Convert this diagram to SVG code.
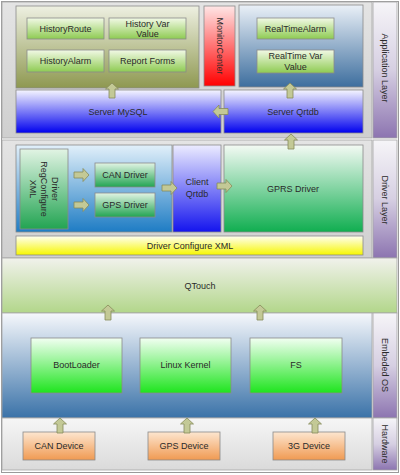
<svg xmlns="http://www.w3.org/2000/svg" width="400" height="475" viewBox="0 0 400 475">
<defs>
<linearGradient id="gPanel" x1="0" y1="0" x2="0" y2="1"><stop offset="0" stop-color="#e4e4e4"/><stop offset="1" stop-color="#cfcfcf"/></linearGradient>
<linearGradient id="gLabel" x1="0" y1="0" x2="0" y2="1"><stop offset="0" stop-color="#f6f5f8"/><stop offset="0.5" stop-color="#d6cfe2"/><stop offset="1" stop-color="#8c74b0"/></linearGradient>
<linearGradient id="gOlive" x1="0" y1="0" x2="0" y2="1"><stop offset="0" stop-color="#eef0e2"/><stop offset="1" stop-color="#8e9850"/></linearGradient>
<linearGradient id="gBtn" x1="0" y1="0" x2="0" y2="1"><stop offset="0" stop-color="#f2f9e6"/><stop offset="1" stop-color="#8ecb52"/></linearGradient>
<linearGradient id="gBlue" x1="0" y1="0" x2="0" y2="1"><stop offset="0" stop-color="#f6f6ff"/><stop offset="1" stop-color="#0000ee"/></linearGradient>
<linearGradient id="gRed" x1="0" y1="0" x2="0" y2="1"><stop offset="0" stop-color="#ffe6e6"/><stop offset="1" stop-color="#ff0000"/></linearGradient>
<linearGradient id="gSteel" x1="0" y1="0" x2="0" y2="1"><stop offset="0" stop-color="#eaf0f7"/><stop offset="1" stop-color="#3d6e9e"/></linearGradient>
<linearGradient id="gDrvBox" x1="0" y1="0" x2="0" y2="1"><stop offset="0" stop-color="#e2f0fa"/><stop offset="1" stop-color="#1e7cc4"/></linearGradient>
<linearGradient id="gDrvGreen" x1="0" y1="0" x2="0" y2="1"><stop offset="0" stop-color="#e2f4e4"/><stop offset="1" stop-color="#22a452"/></linearGradient>
<linearGradient id="gClient" x1="0" y1="0" x2="0" y2="1"><stop offset="0" stop-color="#ececff"/><stop offset="1" stop-color="#1414ee"/></linearGradient>
<linearGradient id="gGPRS" x1="0" y1="0" x2="0" y2="1"><stop offset="0" stop-color="#f4faf4"/><stop offset="1" stop-color="#10ae50"/></linearGradient>
<linearGradient id="gYellow" x1="0" y1="0" x2="0" y2="1"><stop offset="0" stop-color="#fffff2"/><stop offset="1" stop-color="#f6f600"/></linearGradient>
<linearGradient id="gQTouch" x1="0" y1="0" x2="0" y2="1"><stop offset="0" stop-color="#f1f2ec"/><stop offset="1" stop-color="#b2d68a"/></linearGradient>
<linearGradient id="gOS" x1="0" y1="0" x2="0" y2="1"><stop offset="0" stop-color="#f6f8fc"/><stop offset="1" stop-color="#3a72a8"/></linearGradient>
<linearGradient id="gOSGreen" x1="0" y1="0" x2="0" y2="1"><stop offset="0" stop-color="#f2fff2"/><stop offset="1" stop-color="#1ee41e"/></linearGradient>
<linearGradient id="gHW" x1="0" y1="0" x2="0" y2="1"><stop offset="0" stop-color="#f6f6f6"/><stop offset="1" stop-color="#dadada"/></linearGradient>
<linearGradient id="gOrange" x1="0" y1="0" x2="0" y2="1"><stop offset="0" stop-color="#fde6d0"/><stop offset="1" stop-color="#f09a52"/></linearGradient>
<path id="arrUp" d="M0,0 L6.5,6 L3,6 L3,15 L-3,15 L-3,6 L-6.5,6 Z"/>
</defs>
<style>
text{font-family:"Liberation Sans",Arial,sans-serif;font-size:9px;fill:#2a2a2a;text-anchor:middle;dominant-baseline:central}
.box{stroke:#8a8a8a;stroke-width:0.8}
.panel{stroke:#a6a6a6;stroke-width:0.8}
.arrow{fill:#c3c996;stroke:#868c5a;stroke-width:0.8}
</style>
<rect x="1.5" y="1.5" width="397" height="471" fill="#ffffff" stroke="#9a9a9a"/>

<g id="application-layer">
<rect class="panel" x="2" y="2" width="370" height="136" fill="url(#gPanel)"/>
<rect class="panel" x="373" y="2" width="24" height="136" fill="url(#gLabel)"/>
<text transform="translate(385,68) rotate(90)">Application Layer</text>
</g>
<g id="history-group"><rect class="box" x="16" y="6" width="183" height="82" fill="url(#gOlive)"/></g>
<g id="history-route"><rect class="box" x="27" y="18" width="77" height="21" fill="url(#gBtn)"/><text x="65.5" y="28.5">HistoryRoute</text></g>
<g id="history-var-value"><rect class="box" x="109" y="18" width="77" height="21" fill="url(#gBtn)"/><text x="147.5" y="23.5">History Var</text><text x="147.5" y="33.5">Value</text></g>
<g id="history-alarm"><rect class="box" x="27" y="50" width="77" height="22" fill="url(#gBtn)"/><text x="65.5" y="61">HistoryAlarm</text></g>
<g id="report-forms"><rect class="box" x="109" y="50" width="77" height="22" fill="url(#gBtn)"/><text x="147.5" y="61">Report Forms</text></g>
<g id="monitor-center"><rect class="box" x="204" y="6" width="31" height="80" fill="url(#gRed)"/><text transform="translate(219.5,46) rotate(90)">MonitorCenter</text></g>
<g id="realtime-group"><rect class="box" x="239" y="5" width="124" height="82" fill="url(#gSteel)"/></g>
<g id="realtime-alarm"><rect class="box" x="257" y="18" width="77" height="21" fill="url(#gBtn)"/><text x="295.5" y="28.5">RealTimeAlarm</text></g>
<g id="realtime-var-value"><rect class="box" x="257" y="50" width="77" height="23" fill="url(#gBtn)"/><text x="295.5" y="56">RealTime Var</text><text x="295.5" y="67">Value</text></g>
<g id="server-mysql"><rect class="box" x="16" y="90" width="205" height="43" fill="url(#gBlue)"/><text x="118" y="111.5">Server MySQL</text></g>
<g id="server-qrtdb"><rect class="box" x="224" y="90" width="139" height="43" fill="url(#gBlue)"/><text x="293" y="111.5">Server Qrtdb</text></g>

<g id="driver-layer">
<rect class="panel" x="2" y="140" width="370" height="118" fill="url(#gPanel)"/>
<rect class="panel" x="373" y="140" width="24" height="118" fill="url(#gLabel)"/>
<text transform="translate(385,200) rotate(90)">Driver Layer</text>
</g>
<g id="driver-group"><rect class="box" x="16" y="145" width="156" height="87" fill="url(#gDrvBox)"/></g>
<g id="driver-regconfigure-xml"><rect class="box" x="20" y="149" width="48" height="80" fill="url(#gDrvGreen)"/>
<text transform="translate(44,189) rotate(90)"><tspan x="0" y="-11">Driver</tspan><tspan x="0" y="0">RegConfigure</tspan><tspan x="0" y="11">XML</tspan></text></g>
<g id="can-driver"><rect class="box" x="95" y="163" width="60" height="24" fill="url(#gDrvGreen)"/><text x="125" y="175">CAN Driver</text></g>
<g id="gps-driver"><rect class="box" x="95" y="193" width="60" height="24" fill="url(#gDrvGreen)"/><text x="125" y="205">GPS Driver</text></g>
<g id="client-qrtdb"><rect class="box" x="173" y="145" width="48" height="87" fill="url(#gClient)"/><text x="197" y="182">Client</text><text x="197" y="194">Qrtdb</text></g>
<g id="gprs-driver"><rect class="box" x="224" y="145" width="139" height="87" fill="url(#gGPRS)"/><text x="293" y="189">GPRS Driver</text></g>
<g id="driver-configure-xml"><rect class="box" x="16" y="236" width="347" height="19" fill="url(#gYellow)"/><text x="190" y="246">Driver Configure XML</text></g>

<g id="qtouch"><rect class="panel" x="2" y="258" width="395" height="55" fill="url(#gQTouch)"/><text x="200" y="285.5">QTouch</text></g>

<g id="embedded-os">
<rect class="panel" x="2" y="313" width="370" height="105" fill="url(#gOS)"/>
<rect class="panel" x="373" y="313" width="24" height="105" fill="url(#gLabel)"/>
<text transform="translate(385,365) rotate(90)">Embeded OS</text>
</g>
<g id="bootloader"><rect class="box" x="31" y="338" width="91" height="55" fill="url(#gOSGreen)"/><text x="76.5" y="365">BootLoader</text></g>
<g id="linux-kernel"><rect class="box" x="140" y="338" width="91" height="55" fill="url(#gOSGreen)"/><text x="185.5" y="365">Linux Kernel</text></g>
<g id="fs"><rect class="box" x="250" y="338" width="92" height="55" fill="url(#gOSGreen)"/><text x="296" y="365">FS</text></g>

<g id="hardware">
<rect class="panel" x="2" y="418" width="370" height="52" fill="url(#gHW)"/>
<rect class="panel" x="373" y="418" width="24" height="52" fill="url(#gLabel)"/>
<text transform="translate(385,444) rotate(90)">Hardware</text>
</g>
<g id="can-device"><rect class="box" x="23" y="432" width="72" height="28" fill="url(#gOrange)"/><text x="59" y="446">CAN Device</text></g>
<g id="gps-device"><rect class="box" x="148" y="432" width="72" height="28" fill="url(#gOrange)"/><text x="184" y="446">GPS Device</text></g>
<g id="3g-device"><rect class="box" x="273" y="432" width="72" height="28" fill="url(#gOrange)"/><text x="309" y="446">3G Device</text></g>

<g id="connectors">
<use href="#arrUp" class="arrow" transform="translate(112,83)"/>
<use href="#arrUp" class="arrow" transform="translate(290,83)"/>
<use href="#arrUp" class="arrow" transform="translate(213,111.5) rotate(-90)"/>
<use href="#arrUp" class="arrow" transform="translate(291,134)"/>
<use href="#arrUp" class="arrow" transform="translate(89,175) rotate(90)"/>
<use href="#arrUp" class="arrow" transform="translate(89,205) rotate(90)"/>
<use href="#arrUp" class="arrow" transform="translate(177,188) rotate(90)"/>
<use href="#arrUp" class="arrow" transform="translate(232,186) rotate(90)"/>
<use href="#arrUp" class="arrow" transform="translate(108,305)"/>
<use href="#arrUp" class="arrow" transform="translate(260,305)"/>
<use href="#arrUp" class="arrow" transform="translate(60,418)"/>
<use href="#arrUp" class="arrow" transform="translate(187,418)"/>
<use href="#arrUp" class="arrow" transform="translate(315,418)"/>
</g>
</svg>
